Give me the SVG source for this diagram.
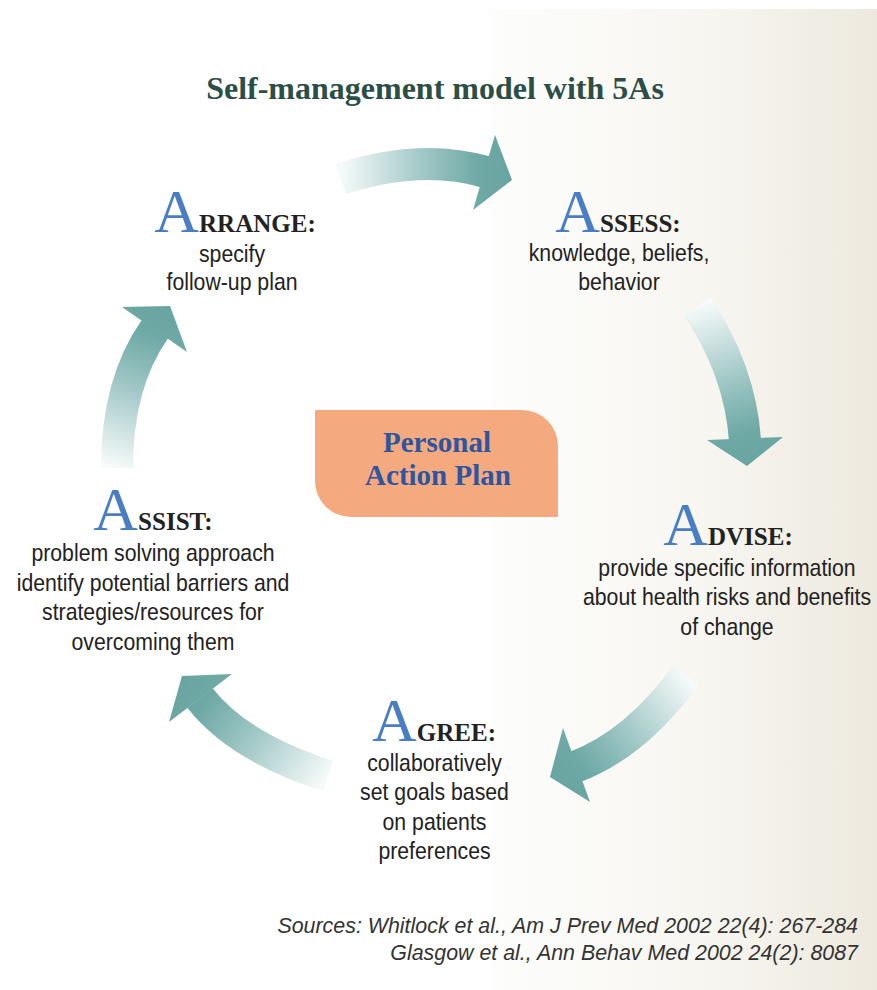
<svg xmlns="http://www.w3.org/2000/svg" width="877" height="990" viewBox="0 0 877 990">
<defs>
<linearGradient id="bg" x1="0" y1="0" x2="877" y2="0" gradientUnits="userSpaceOnUse">
<stop offset="0" stop-color="#ffffff"/>
<stop offset="0.555" stop-color="#ffffff"/>
<stop offset="0.56" stop-color="#fdfdfc"/>
<stop offset="0.8" stop-color="#f7f6f1"/>
<stop offset="1" stop-color="#ede9de"/>
</linearGradient>
<linearGradient id="g1" x1="341" y1="179" x2="512" y2="180" gradientUnits="userSpaceOnUse">
<stop offset="0" stop-color="#f6fafa"/><stop offset="0.5" stop-color="#9cc5c3"/><stop offset="0.8" stop-color="#6fa9a6"/><stop offset="1" stop-color="#68a4a1"/>
</linearGradient>
<linearGradient id="g2" x1="697" y1="306" x2="747" y2="466" gradientUnits="userSpaceOnUse">
<stop offset="0" stop-color="#f6fafa"/><stop offset="0.5" stop-color="#9cc5c3"/><stop offset="0.8" stop-color="#6fa9a6"/><stop offset="1" stop-color="#68a4a1"/>
</linearGradient>
<linearGradient id="g3" x1="686" y1="675" x2="550" y2="777" gradientUnits="userSpaceOnUse">
<stop offset="0" stop-color="#f6fafa"/><stop offset="0.5" stop-color="#9cc5c3"/><stop offset="0.8" stop-color="#6fa9a6"/><stop offset="1" stop-color="#68a4a1"/>
</linearGradient>
<linearGradient id="g4" x1="328" y1="776" x2="182" y2="676" gradientUnits="userSpaceOnUse">
<stop offset="0" stop-color="#f6fafa"/><stop offset="0.5" stop-color="#9cc5c3"/><stop offset="0.8" stop-color="#6fa9a6"/><stop offset="1" stop-color="#68a4a1"/>
</linearGradient>
<linearGradient id="g5" x1="117" y1="468" x2="170" y2="306" gradientUnits="userSpaceOnUse">
<stop offset="0" stop-color="#f6fafa"/><stop offset="0.5" stop-color="#9cc5c3"/><stop offset="0.8" stop-color="#6fa9a6"/><stop offset="1" stop-color="#68a4a1"/>
</linearGradient>
</defs>
<style>
.body{fill:none;stroke-width:32;stroke-linecap:butt}
.title{font-family:"Liberation Serif",serif;font-weight:bold;font-size:32px;fill:#2b4f47;text-anchor:middle}
.big{font-family:"Liberation Serif",serif;font-size:62px;fill:#4a7ec4}
.sc{font-family:"Liberation Serif",serif;font-weight:bold;font-size:25px;fill:#222}
.hd{text-anchor:middle}
.txt{font-family:"Liberation Sans",sans-serif;font-size:24px;fill:#222;text-anchor:middle}
.box{fill:#f5a97f}
.boxt{font-family:"Liberation Serif",serif;font-weight:bold;font-size:29px;fill:#2c55a2;text-anchor:middle}
.src{font-family:"Liberation Sans",sans-serif;font-style:italic;font-size:21.4px;fill:#333;text-anchor:end}
</style>
<rect x="0" y="0" width="877" height="990" fill="#ffffff"/>
<rect x="0" y="9" width="877" height="981" fill="url(#bg)"/>
<text class="title" x="435" y="99">Self-management model with 5As</text>

<g id="connectors">
<g id="arrow-assess">
<path class="body" stroke="url(#g1)" d="M341,179 Q420,153 486,172"/>
<polygon fill="url(#g1)" points="495,135 512,180 473,210"/>
</g>
<g id="arrow-advise">
<path class="body" stroke="url(#g2)" d="M697,306 Q740,370 745,440"/>
<polygon fill="url(#g2)" points="707,440 783,437 747,466"/>
</g>
<g id="arrow-agree">
<path class="body" stroke="url(#g3)" d="M686,675 Q636,744 575,767"/>
<polygon fill="url(#g3)" points="563,728 550,777 590,802"/>
</g>
<g id="arrow-assist">
<path class="body" stroke="url(#g4)" d="M328,776 Q238,747 200,698"/>
<polygon fill="url(#g4)" points="182,676 232,674 169,722"/>
</g>
<g id="arrow-arrange">
<path class="body" stroke="url(#g5)" d="M117,468 Q117,383 155,329"/>
<polygon fill="url(#g5)" points="122,307 170,306 187,352"/>
</g>
</g>

<g id="arrange">
<text class="hd" x="235" y="232"><tspan class="big">A</tspan><tspan class="sc">RRANGE:</tspan></text>
<g transform="translate(232,0) scale(0.885,1)">
<text class="txt" x="0" y="262">specify</text>
<text class="txt" x="0" y="290">follow-up plan</text>
</g>
</g>

<g id="assess">
<text class="hd" x="618" y="232"><tspan class="big">A</tspan><tspan class="sc">SSESS:</tspan></text>
<g transform="translate(619,0) scale(0.885,1)">
<text class="txt" x="0" y="261">knowledge, beliefs,</text>
<text class="txt" x="0" y="290">behavior</text>
</g>
</g>

<g id="advise">
<text class="hd" x="728" y="545"><tspan class="big">A</tspan><tspan class="sc">DVISE:</tspan></text>
<g transform="translate(727,0) scale(0.885,1)">
<text class="txt" x="0" y="576">provide specific information</text>
<text class="txt" x="0" y="605">about health risks and benefits</text>
<text class="txt" x="0" y="635">of change</text>
</g>
</g>

<g id="agree">
<text class="hd" x="434" y="741"><tspan class="big">A</tspan><tspan class="sc">GREE:</tspan></text>
<g transform="translate(434.5,0) scale(0.885,1)">
<text class="txt" x="0" y="771">collaboratively</text>
<text class="txt" x="0" y="800">set goals based</text>
<text class="txt" x="0" y="830">on patients</text>
<text class="txt" x="0" y="859">preferences</text>
</g>
</g>

<g id="assist">
<text class="hd" x="153" y="530"><tspan class="big">A</tspan><tspan class="sc">SSIST:</tspan></text>
<g transform="translate(153,0) scale(0.885,1)">
<text class="txt" x="0" y="561">problem solving approach</text>
<text class="txt" x="0" y="591">identify potential barriers and</text>
<text class="txt" x="0" y="620">strategies/resources for</text>
<text class="txt" x="0" y="650">overcoming them</text>
</g>
</g>

<g id="personal-action-plan">
<path class="box" d="M315,410 H522 A36,36 0 0 1 558,446 V517 H351 A36,36 0 0 1 315,481 Z"/>
<text class="boxt" x="437" y="452">Personal</text>
<text class="boxt" x="438" y="485">Action Plan</text>
</g>

<g id="sources">
<text class="src" x="858" y="933">Sources: Whitlock et al., Am J Prev Med 2002 22(4): 267-284</text>
<text class="src" x="858" y="960">Glasgow et al., Ann Behav Med 2002 24(2): 8087</text>
</g>
</svg>
